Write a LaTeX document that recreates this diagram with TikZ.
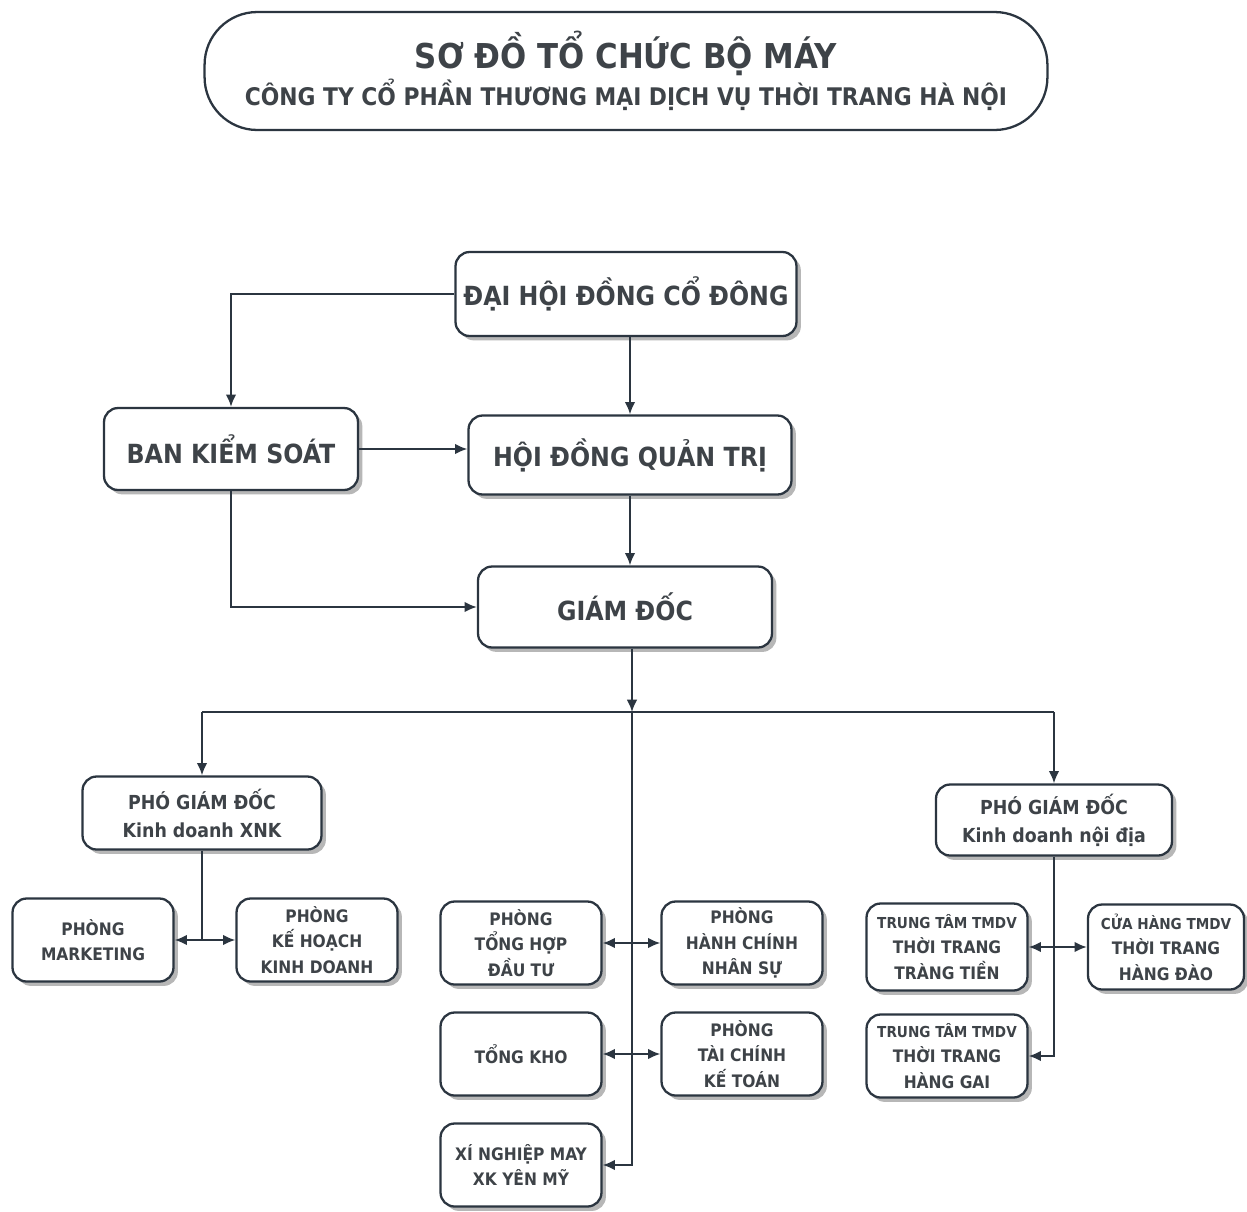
\documentclass[tikz,border=0pt]{standalone}
\usepackage{fontspec}
\setmainfont{DejaVu Sans Condensed}
\usetikzlibrary{shadows,arrows.meta}
\definecolor{ink}{HTML}{2B3540}
\definecolor{txt}{HTML}{3E4348}
\tikzset{
  box/.style={draw=ink, line width=1.3pt, rounded corners=8pt, fill=white,
    align=center, text=txt, inner sep=2pt,
    drop shadow={shadow xshift=2.5pt, shadow yshift=-2.5pt, fill=black!40, opacity=0.7}},
  big/.style={box, font=\bfseries\fontsize{15}{18}\selectfont},
  small/.style={box, font=\bfseries\fontsize{9.8}{14.5}\selectfont, minimum width=3.22cm, minimum height=1.66cm},
  line/.style={draw=ink, line width=1.1pt},
  >={Latex[length=7pt,width=6pt]},
}
\begin{document}
\begin{tikzpicture}[x=0.02cm, y=-0.02cm]
\useasboundingbox[fill=white] (0,0) rectangle (1247,1211);

\node[draw=ink, line width=1.3pt, rounded corners=30pt, minimum width=16.86cm, minimum height=2.36cm, align=center, text=txt, font=\bfseries] (0) at (626,71)
  {\fontsize{19.5}{24}\selectfont SƠ ĐỒ TỔ CHỨC BỘ MÁY\\[1pt]
   \fontsize{13.8}{18}\selectfont CÔNG TY CỔ PHẦN THƯƠNG MẠI DỊCH VỤ THỜI TRANG HÀ NỘI};

\node[big, minimum width=6.82cm, minimum height=1.68cm] (1) at (626,294) {ĐẠI HỘI ĐỒNG CỔ ĐÔNG};
\node[big, minimum width=5.08cm, minimum height=1.64cm] (2) at (231,449) {BAN KIỂM SOÁT};
\node[big, minimum width=6.46cm, minimum height=1.58cm] (3) at (630,455) {HỘI ĐỒNG QUẢN TRỊ};
\node[big, minimum width=5.88cm, minimum height=1.62cm] (4) at (625,607) {GIÁM ĐỐC};
\node[box, font=\bfseries\fontsize{11}{16}\selectfont, minimum width=4.78cm, minimum height=1.46cm] (5) at (202,813) {PHÓ GIÁM ĐỐC\\Kinh doanh XNK};
\node[box, font=\bfseries\fontsize{11}{16}\selectfont, minimum width=4.72cm, minimum height=1.42cm] (6) at (1054,820) {PHÓ GIÁM ĐỐC\\Kinh doanh nội địa};

\node[small] (7) at (93,940) {PHÒNG\\MARKETING};
\node[small] (8) at (317,940) {PHÒNG\\KẾ HOẠCH\\KINH DOANH};
\node[small] (9) at (521,943) {PHÒNG\\TỔNG HỢP\\ĐẦU TƯ};
\node[small] (10) at (742,943) {PHÒNG\\HÀNH CHÍNH\\NHÂN SỰ};
\node[small] (11) at (521,1054) {TỔNG KHO};
\node[small] (12) at (742,1054) {PHÒNG\\TÀI CHÍNH\\KẾ TOÁN};
\node[small] (13) at (521,1165) {XÍ NGHIỆP MAY\\XK YÊN MỸ};
\node[small, font=\bfseries\fontsize{8.6}{14.5}\selectfont, minimum height=1.74cm] (14) at (947,947) {TRUNG TÂM TMDV\\\fontsize{9.8}{14.5}\selectfont THỜI TRANG\\\fontsize{9.8}{14.5}\selectfont TRÀNG TIỀN};
\node[small, font=\bfseries\fontsize{8.6}{14.5}\selectfont, minimum width=3.12cm, minimum height=1.7cm] (15) at (1166,947) {CỬA HÀNG TMDV\\\fontsize{9.8}{14.5}\selectfont THỜI TRANG\\\fontsize{9.8}{14.5}\selectfont HÀNG ĐÀO};
\node[small, font=\bfseries\fontsize{8.6}{14.5}\selectfont] (16) at (947,1056) {TRUNG TÂM TMDV\\\fontsize{9.8}{14.5}\selectfont THỜI TRANG\\\fontsize{9.8}{14.5}\selectfont HÀNG GAI};

\coordinate (b) at (632,712);

\path[line,->] (1.west) -| (2.north);
\path[line,->] (3.north |- 1.south) -- (3.north);
\path[line,->] (2.east) -- (3.west |- 2.east);
\path[line,->] (3.south) -- (3.south |- 4.north);
\path[line,->] (2.south) |- (4.west);
\path[line,->] (4.south -| b) -- (b);
\path[line] (5.north |- b) -- (6.north |- b);
\path[line,->] (5.north |- b) -- (5.north);
\path[line,->] (6.north |- b) -- (6.north);
\path[line,->] (b) |- (13.east);
\path[line,<->] (9.east) -- (10.west);
\path[line,<->] (11.east) -- (12.west);
\path[line] (5.south) -- (5.south |- 7.east);
\path[line,<->] (7.east) -- (8.west);
\path[line,<->] (14.east) -- (15.west);
\path[line,->] (6.south) |- (16.east);
\end{tikzpicture}
\end{document}
